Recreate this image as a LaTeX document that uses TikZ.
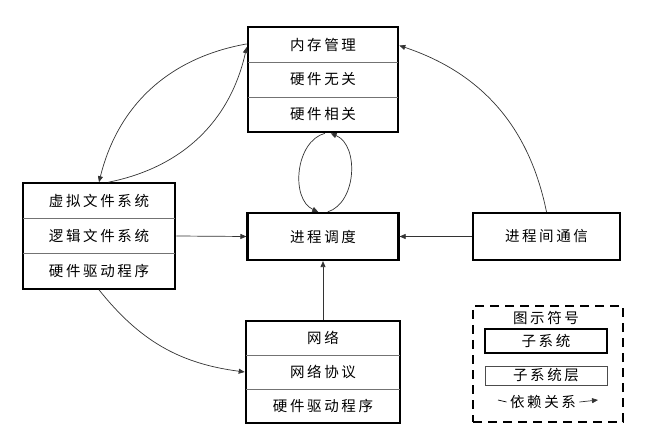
\documentclass[tikz,border=0pt]{standalone}
\usepackage{fontspec}
\setmainfont{Noto Sans CJK SC}[LetterSpace=18]
\usetikzlibrary{arrows.meta,fit}

\begin{document}
\begin{tikzpicture}[x=1pt,y=-1pt,
    font=\fontsize{14.5}{16}\selectfont,
    row/.style={minimum width=#1, minimum height=35pt, inner sep=0pt},
    subsys/.style={draw, line width=2.2pt, inner sep=0pt},
    divider/.style={draw, black!55, line width=0.8pt},
    dep/.style={draw, line width=0.7pt, black!80, -{Triangle[length=6pt,width=5pt]}}]
  \path[use as bounding box] (0,0) rectangle (657,441);
  % memory management
  \node[row=150pt] at (323,44.5) (mem1) {内存管理};
  \node[row=150pt] at (323,79.5) (mem2) {硬件无关};
  \node[row=150pt] at (323,114.5) (mem3) {硬件相关};
  \node[subsys, fit=(mem1)(mem3)] (mem) {};
  \path[divider] (mem1.south west) -- (mem1.south east);
  \path[divider] (mem2.south west) -- (mem2.south east);
  % virtual file system
  \node[row=152pt] at (99,201) (vfs1) {虚拟文件系统};
  \node[row=152pt] at (99,236) (vfs2) {逻辑文件系统};
  \node[row=152pt] at (99,271) (vfs3) {硬件驱动程序};
  \node[subsys, fit=(vfs1)(vfs3)] (vfs) {};
  \path[divider] (vfs1.south west) -- (vfs1.south east);
  \path[divider] (vfs2.south west) -- (vfs2.south east);
  % network
  \node[row=154pt, minimum height=34pt] at (323,338) (net1) {网络};
  \node[row=154pt, minimum height=34pt] at (323,372) (net2) {网络协议};
  \node[row=154pt, minimum height=34pt] at (323,406) (net3) {硬件驱动程序};
  \node[subsys, fit=(net1)(net3)] (net) {};
  \path[divider] (net1.south west) -- (net1.south east);
  \path[divider] (net2.south west) -- (net2.south east);
  % scheduler and ipc
  \node[subsys, minimum width=151pt, minimum height=47pt] at (323,236.5) (sch) {进程调度};
  \node[subsys, minimum width=147pt, minimum height=47pt] at (546.5,236.5) (ipc) {进程间通信};
  % legend
  \node[draw, line width=2.2pt, dash pattern=on 9pt off 6pt, minimum width=150pt, minimum height=116pt] at (548,364) (legend) {};
  \node at (546,318) (legtitle) {图示符号};
  \node[subsys, minimum width=122pt, minimum height=24pt] at (546,341) (legsub) {子系统};
  \node[draw, line width=1pt, black!70, text=black, minimum width=122pt, minimum height=19pt, inner sep=0pt] at (546,375.5) (leglayer) {子系统层};
  \node at (543,402) (legdep) {依赖关系};
  \coordinate (depa) at (498,400);
  \coordinate (depb) at (598,400);
  \path[draw, line width=0.7pt] (depa) -- (legdep.west);
  \path[dep] (legdep.east) -- (depb);
  % dependencies
  \path[dep] (mem.155) to[bend right=33] (vfs.north);
  \path[dep] (vfs.80) to[bend right=33] (mem.157);
  \path[dep] (mem.272) to[bend right=70] (sch.101);
  \path[dep] (sch.79) to[bend right=70] (mem.278);
  \path[dep] (ipc.north) to[bend right=30] (mem.24);
  \path[dep] (vfs.south) to[bend right=22] (net.west);
  \path[dep] (vfs.east) -- (sch.west);
  \path[dep] (ipc.west) -- (sch.east);
  \path[dep] (net.north) -- (sch.south);
\end{tikzpicture}
\end{document}
